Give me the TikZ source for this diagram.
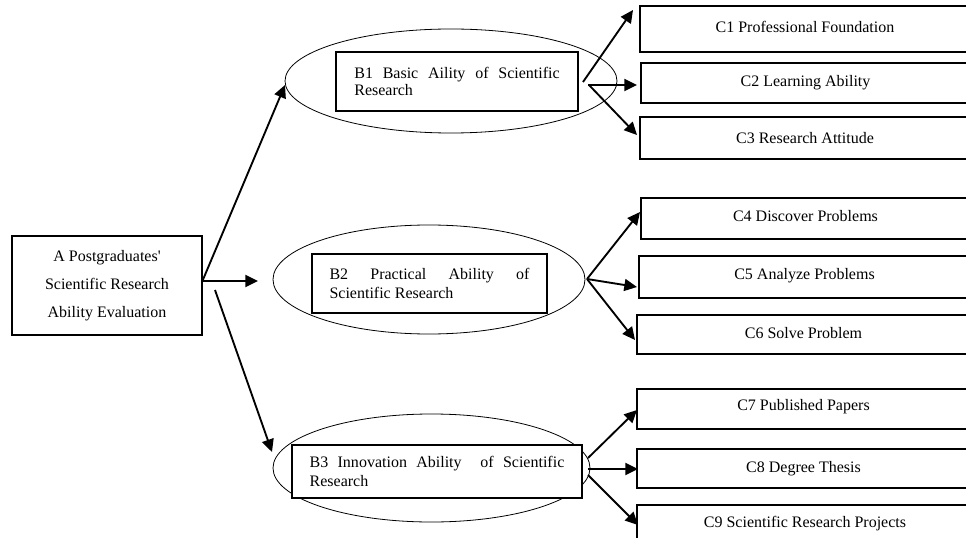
\documentclass[tikz,border=0pt]{standalone}
\usepackage{fontspec}
\setmainfont{Liberation Serif}[Ligatures=TeXOff]
\usetikzlibrary{arrows.meta,shapes.geometric,fit}
\begin{document}
\begin{tikzpicture}[x=0.75pt,y=-0.75pt,
  every node/.style={font=\fontsize{12}{14}\selectfont},
  boxA/.style={draw,line width=0.8pt,inner sep=0pt,align=center},
  cbox/.style={draw,line width=0.8pt,inner sep=0pt},
  bbox/.style={draw,line width=0.8pt,inner sep=0pt,align=left},
  oval/.style={draw,ellipse,line width=0.6pt,inner sep=0pt},
  arr/.style={-{Triangle[length=9.5pt,width=9pt]},line width=1.4pt}]
\useasboundingbox (0,0) rectangle (966,538);
% A
\node[boxA,fit={(12,236)(202,335)}] (A) {};
\node[align=center,font=\fontsize{12}{21}\selectfont] (At) at (A.center) {A Postgraduates'\\Scientific Research\\Ability Evaluation};
% ellipses
\node[oval,minimum width=249pt,minimum height=78pt] (B1e) at (451,81) {};
\node[oval,minimum width=234pt,minimum height=81.75pt] (B2e) at (429,279.5) {};
\node[oval,minimum width=237.75pt,minimum height=81pt] (B3e) at (431.5,468) {};
% inner rectangles
\node[bbox,fill=white,fit={(336,52)(578,111)}] (B1) {};
\node[align=left,font=\fontsize{12}{13}\selectfont] (B1t) at (B1.center) {\makebox[154pt][s]{B1 Basic Aility of Scientific}\\Research};
\node[bbox,fill=white,fit={(312,254)(547,313)}] (B2) {};
\node[align=left,font=\fontsize{12}{14}\selectfont] (B2t) at (B2.center) {\makebox[150pt][s]{B2 Practical Ability of}\\Scientific Research};
\node[bbox,fill=white,fit={(292,445)(582,498)}] (B3) {};
\node[align=left,font=\fontsize{12}{14}\selectfont] (B3t) at (B3.center) {\makebox[191pt][s]{B3 Innovation Ability \ of Scientific}\\Research};
% C boxes
\node[cbox,fit={(640,6)(970,52)}] (C1) {};
\node (C1t) at ([yshift=1.5pt]C1.center) {C1 Professional Foundation};
\node[cbox,fit={(641,63)(970,103)}] (C2) {};
\node (C2t) at (C2.center) {C2 Learning Ability};
\node[cbox,fit={(640,117)(970,159)}] (C3) {};
\node (C3t) at (C3.center) {C3 Research Attitude};
\node[cbox,fit={(641,198)(970,239)}] (C4) {};
\node (C4t) at ([yshift=2pt]C4.center) {C4 Discover Problems};
\node[cbox,fit={(639,256)(970,298)}] (C5) {};
\node (C5t) at ([yshift=1pt]C5.center) {C5 Analyze Problems};
\node[cbox,fit={(637,315)(970,354)}] (C6) {};
\node (C6t) at ([yshift=1pt]C6.center) {C6 Solve Problem};
\node[cbox,fit={(637,389)(970,429)}] (C7) {};
\node (C7t) at ([yshift=1.5pt]C7.center) {C7 Published Papers};
\node[cbox,fit={(637,449)(970,488)}] (C8) {};
\node (C8t) at (C8.center) {C8 Degree Thesis};
\node[cbox,fit={(637,505)(970,545)}] (C9) {};
\node (C9t) at (805,524) {C9 Scientific Research Projects};
% connector coordinates
\coordinate (a1) at (202,282);
\coordinate (a2) at (203,281);
\coordinate (a3) at (215,290);
\coordinate (t1) at (285,85);
\coordinate (t2) at (258,281);
\coordinate (t3) at (272,452);
\coordinate (b11) at (583,82);
\coordinate (b12) at (588,85);
\coordinate (b13) at (589,85);
\coordinate (c1) at (633,10);
\coordinate (c2) at (637,85);
\coordinate (c3) at (637,135);
\coordinate (b2o) at (587,279);
\coordinate (c4) at (640,212);
\coordinate (c5) at (637,287);
\coordinate (c6) at (635,340);
\coordinate (b31) at (588,458);
\coordinate (b32) at (588,469);
\coordinate (b33) at (588,475);
\coordinate (c7) at (637,410);
\coordinate (c8) at (638,469);
\coordinate (c9) at (638,525);
% arrows
\draw[arr] (a1) -- (t1);
\draw[arr] (a2) -- (t2);
\draw[arr] (a3) -- (t3);
\draw[arr] (b11) -- (c1);
\draw[arr] (b12) -- (c2);
\draw[arr] (b13) -- (c3);
\draw[arr] (b2o) -- (c4);
\draw[arr] (b2o) -- (c5);
\draw[arr] (b2o) -- (c6);
\draw[arr] (b31) -- (c7);
\draw[arr] (b32) -- (c8);
\draw[arr] (b33) -- (c9);
\end{tikzpicture}
\end{document}
